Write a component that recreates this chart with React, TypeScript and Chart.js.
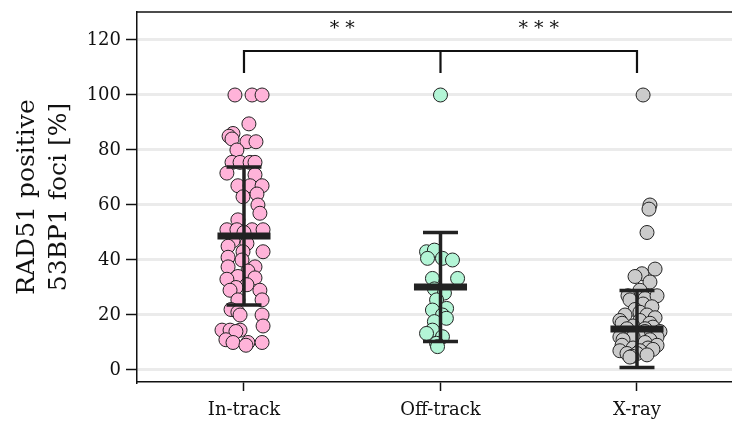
import React, { useEffect, useRef } from "react";
import { Chart, registerables } from "chart.js";

Chart.register(...registerables);

const categories = ["In-track", "Off-track", "X-ray"];
const yTicks = [0, 20, 40, 60, 80, 100, 120];

// individual measurements (value) with horizontal jitter (in category units)
const inTrackValues = [
  100, 100, 100, 89.5, 86, 85, 84, 83, 83, 80, 75.5, 75.5, 75.5, 75.5, 71.6, 71, 67, 67, 67,
  63, 64, 60, 57, 54.6, 51, 51, 51, 51, 50, 47, 46, 45, 43, 43, 41, 40, 37.5, 37.5, 36, 34,
  33.5, 33, 31, 30, 29, 29, 25.5, 25.5, 22, 21, 20, 20, 16, 14.5, 14.5, 14.5, 14, 11, 10, 10,
  10, 9,
];
const inTrackJitter = [
  -0.046, 0.041, 0.092, 0.025, -0.056, -0.076, -0.061, 0.015, 0.061, -0.036, -0.061, -0.02,
  0.031, 0.056, -0.087, 0.056, -0.031, 0.031, 0.092, -0.005, 0.066, 0.071, 0.081, -0.031,
  -0.087, -0.036, 0.041, 0.097, 0, -0.056, 0.015, -0.081, -0.005, 0.097, -0.081, -0.01,
  -0.081, 0.056, 0.02, -0.031, 0.056, -0.087, 0.015, -0.041, -0.071, 0.081, -0.031, 0.092,
  -0.066, -0.031, 0.092, -0.02, 0.097, -0.112, -0.071, -0.02, -0.041, -0.092, -0.056, 0.02,
  0.092, 0.01,
];

const offTrackValues = [
  100, 43, 43.6, 40.6, 40.6, 40, 33.3, 33.3, 29.5, 28, 25.5, 22.4, 21.8, 20, 18.8, 17.6,
  14.5, 13.3, 12.1, 9.7, 8.5,
];
const offTrackJitter = [
  0, -0.071, -0.031, -0.066, 0.01, 0.061, -0.041, 0.087, -0.031, 0.02, -0.02, 0.031, -0.041,
  0.01, 0.03, -0.031, -0.041, -0.071, 0.01, -0.02, -0.015,
];

const xrayValues = [
  100, 60, 58.5, 50, 35, 36.7, 34, 32, 29, 27, 26, 25.5, 27, 24, 23, 22, 21, 20, 20, 19, 18,
  18, 17, 17, 16, 15.6, 15, 15, 14, 14, 13, 13, 12, 12, 12, 11, 11, 10, 9, 9, 8, 8, 7, 7, 7.5,
  6, 6, 5.5, 5, 4.7,
];
const xrayJitter = [
  0.031, 0.066, 0.061, 0.051, 0.025, 0.092, -0.01, 0.066, 0.015, -0.046, 0.041, -0.036, 0.102,
  0.031, 0.076, -0.01, 0.015, 0.051, -0.061, 0.092, 0.015, -0.087, -0.076, 0.066, -0.02,
  0.081, -0.051, 0.041, 0.04, 0.117, 0.005, -0.036, -0.087, -0.02, 0.102, -0.071, 0.066,
  0.041, -0.076, 0.102, -0.02, 0.056, -0.087, 0.015, 0.081, -0.051, 0.0, 0.051, -0.025, -0.036,
];

const groupMeans = [48.7, 30.2, 14.9];
const groupSD = [25.1, 19.8, 14.0];

const pointColors = ["#ffb3d9", "#b3f5d6", "#cbcbcb"];

// significance brackets
const bracketX = [0, 1, 2];
const bracketTop = 116;
const bracketBottom = 108;
const sigLabels = ["**", "***"];
const sigX = [0.5, 1.5];
const sigY = 124;

const MEAN_HALF = 0.135;
const CAP_HALF = 0.089;

export default function App() {
  const canvasRef = useRef<HTMLCanvasElement | null>(null);

  useEffect(() => {
    document.body.style.margin = "0";
    const canvas = canvasRef.current;
    if (!canvas) return;

    Chart.defaults.font.family = "'DejaVu Serif', serif";
    Chart.defaults.color = "#111";

    const groups = [
      { v: inTrackValues, j: inTrackJitter },
      { v: offTrackValues, j: offTrackJitter },
      { v: xrayValues, j: xrayJitter },
    ];

    const datasets: any[] = [];
    groups.forEach((g, i) => {
      datasets.push({
        type: "scatter",
        data: g.v.map((val, k) => ({ x: i + g.j[k], y: val })),
        backgroundColor: pointColors[i],
        borderColor: "#222",
        borderWidth: 1,
        pointRadius: 7,
        pointHoverRadius: 7,
        order: 2,
      });
    });

    const seg = (pts: { x: number; y: number }[], width: number, color = "#222") => ({
      type: "line",
      data: pts,
      borderColor: color,
      borderWidth: width,
      pointRadius: 0,
      showLine: true,
      fill: false,
      borderCapStyle: "butt",
      tension: 0,
      order: 1,
    });

    groupMeans.forEach((m, i) => {
      const sd = groupSD[i];
      datasets.push(seg([{ x: i, y: m - sd }, { x: i, y: m + sd }], 3.5));
      datasets.push(seg([{ x: i - CAP_HALF, y: m + sd }, { x: i + CAP_HALF, y: m + sd }], 3.5));
      datasets.push(seg([{ x: i - CAP_HALF, y: m - sd }, { x: i + CAP_HALF, y: m - sd }], 3.5));
      datasets.push(seg([{ x: i - MEAN_HALF, y: m }, { x: i + MEAN_HALF, y: m }], 7));
    });

    // bracket
    datasets.push(
      seg(
        [
          { x: bracketX[0], y: bracketBottom },
          { x: bracketX[0], y: bracketTop },
          { x: bracketX[2], y: bracketTop },
          { x: bracketX[2], y: bracketBottom },
        ],
        2.2,
        "#111"
      )
    );
    datasets.push(
      seg([{ x: bracketX[1], y: bracketTop }, { x: bracketX[1], y: bracketBottom }], 2.2, "#111")
    );

    const extras = {
      id: "extras",
      afterDatasetsDraw(chart: any) {
        const { ctx, chartArea, scales } = chart;
        ctx.save();
        ctx.strokeStyle = "#111";
        ctx.lineWidth = 1.5;
        ctx.beginPath();
        ctx.moveTo(chartArea.left, chartArea.top);
        ctx.lineTo(chartArea.right, chartArea.top);
        ctx.stroke();
        ctx.fillStyle = "#111";
        ctx.font = "19px 'DejaVu Serif', serif";
        ctx.textAlign = "center";
        ctx.textBaseline = "middle";
        sigLabels.forEach((s, i) => {
          const x = scales.x.getPixelForValue(sigX[i]);
          const y = scales.y.getPixelForValue(sigY);
          ctx.fillText(s.split("").join(" "), x, y);
        });
        ctx.restore();
      },
    };

    const zeroPad = (scale: any) => {
      scale.paddingTop = 0;
      scale.paddingBottom = 0;
      scale.paddingLeft = 0;
      scale.paddingRight = 0;
    };

    const chart = new Chart(canvas, {
      type: "scatter",
      data: { datasets },
      options: {
        animation: false,
        responsive: false,
        maintainAspectRatio: false,
        layout: { autoPadding: false, padding: { top: 12, right: 0, bottom: 0, left: 0 } },
        plugins: { legend: { display: false }, tooltip: { enabled: false } },
        scales: {
          x: {
            type: "linear",
            min: -0.5445,
            max: 2.4835,
            afterBuildTicks: (scale: any) => {
              scale.ticks = categories.map((_, i) => ({ value: i }));
            },
            afterFit: (scale: any) => {
              scale.height = 40;
              zeroPad(scale);
            },
            ticks: {
              callback: (v: any) => categories[Math.round(Number(v))] ?? "",
              font: { size: 18 },
              padding: 9,
              color: "#111",
            },
            grid: {
              drawOnChartArea: false,
              drawTicks: true,
              tickLength: 9,
              tickColor: "#111",
              tickWidth: 1.5,
            },
            border: { display: true, color: "#111", width: 1.5 },
          },
          y: {
            type: "linear",
            min: -4.364,
            max: 130.18,
            afterBuildTicks: (scale: any) => {
              scale.ticks = yTicks.map((v) => ({ value: v }));
            },
            afterFit: (scale: any) => {
              scale.width = 137;
              zeroPad(scale);
            },
            ticks: {
              font: { size: 18 },
              padding: 5,
              color: "#111",
            },
            grid: {
              color: "#ebebeb",
              lineWidth: 3,
              drawTicks: true,
              tickLength: 11,
              tickColor: "#111",
              tickWidth: 1.5,
            },
            border: { display: true, color: "#111", width: 1.5 },
            title: {
              display: true,
              text: ["RAD51 positive", "53BP1 foci [%]"],
              font: { size: 25, lineHeight: 1.28 },
              padding: { top: 11, bottom: 0 },
              color: "#111",
            },
          },
        },
      },
      plugins: [extras],
    });

    return () => chart.destroy();
  }, []);

  return (
    <div style={{ width: 732, height: 422, position: "relative" }}>
      <canvas ref={canvasRef} width={732} height={422} style={{ width: 732, height: 422 }} />
    </div>
  );
}
